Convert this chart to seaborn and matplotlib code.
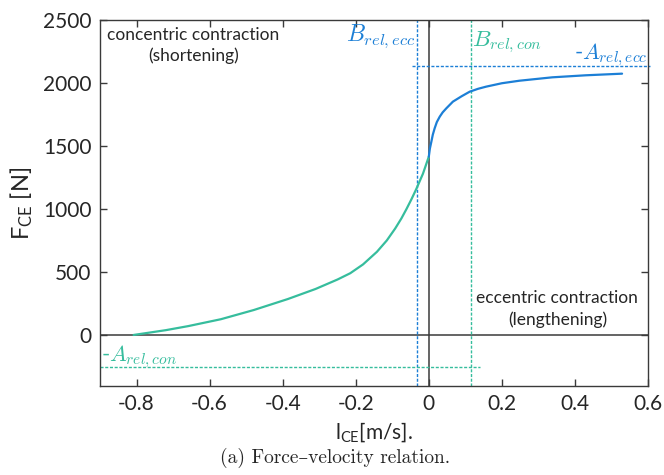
import matplotlib
matplotlib.use("Agg")
import matplotlib.pyplot as plt
import seaborn as sns
import pandas as pd

# Concentric branch (shortening, negative velocity)
v_con = [-0.808, -0.72, -0.659, -0.569, -0.479, -0.386, -0.310, -0.25, -0.215,
         -0.18, -0.142, -0.115, -0.092, -0.075, -0.061, -0.047, -0.034,
         -0.016, 0.0]
f_con = [0, 38, 70, 125, 198, 285, 365, 440, 490,
         560, 660, 750, 845, 925, 1000, 1080, 1160,
         1280, 1415]

# Eccentric branch (lengthening, positive velocity)
v_ecc = [0.0, 0.003, 0.007, 0.011, 0.016, 0.022, 0.030, 0.038, 0.048, 0.066,
         0.09, 0.112, 0.135, 0.157, 0.20, 0.248, 0.338, 0.429, 0.529]
f_ecc = [1415, 1480, 1534, 1590, 1640, 1690, 1733, 1767, 1799, 1852,
         1895, 1931, 1954, 1971, 1998, 2018, 2045, 2061, 2074]

# Hill parameters shown as asymptotes
b_rel_ecc = -0.032
b_rel_con = 0.116
a_rel_ecc = 2137
a_rel_con = -252

x_ticks = [-0.8, -0.6, -0.4, -0.2, 0, 0.2, 0.4, 0.6]
y_ticks = [0, 500, 1000, 1500, 2000, 2500]

TEAL = "#36bd9d"
BLUE = "#1c7fd6"
SPINE = "#3a3a3a"

sns.set_style("ticks")
plt.rcParams["font.family"] = ["Lato", "DejaVu Sans"]
plt.rcParams["mathtext.fontset"] = "custom"
plt.rcParams["mathtext.rm"] = "Lato"
plt.rcParams["mathtext.it"] = "Lato:italic"

fig = plt.figure(figsize=(6.64, 4.75), dpi=100)
ax = fig.add_axes([0.1506, 0.1874, 0.8253, 0.7705])

df_con = pd.DataFrame({"v": v_con, "F": f_con})
df_ecc = pd.DataFrame({"v": v_ecc, "F": f_ecc})

ax.axhline(0, color=SPINE, lw=1.1, zorder=1)
ax.axvline(0, color=SPINE, lw=1.1, zorder=1)

dash = (0, (2.2, 1.2))
ax.axvline(b_rel_ecc, color=BLUE, lw=1.0, ls=dash, zorder=2)
ax.axvline(b_rel_con, color=TEAL, lw=1.0, ls=dash, zorder=2)
ax.plot([-0.045, 0.605], [a_rel_ecc, a_rel_ecc], color=BLUE, lw=1.0, ls=dash,
        zorder=2, clip_on=False)
ax.plot([-0.9, 0.139], [a_rel_con, a_rel_con], color=TEAL, lw=1.0, ls=dash,
        zorder=2)

sns.lineplot(data=df_con, x="v", y="F", ax=ax, color=TEAL, lw=1.6,
             sort=False, estimator=None, zorder=3)
sns.lineplot(data=df_ecc, x="v", y="F", ax=ax, color=BLUE, lw=1.6,
             sort=False, estimator=None, zorder=3)

ax.set_xlim(-0.9, 0.6)
ax.set_ylim(-405, 2500)
ax.set_xticks(x_ticks)
ax.set_xticklabels([f"{t:g}" for t in x_ticks])
ax.set_yticks(y_ticks)
ax.set_yticklabels([str(t) for t in y_ticks])
ax.tick_params(direction="in", length=5, width=1, color=SPINE,
               top=True, right=True, labelsize=15, pad=6)
for s in ax.spines.values():
    s.set_color(SPINE)
    s.set_linewidth(1.0)

ax.set_xlabel(r"$\mathrm{l_{CE}}$[m/s].", fontsize=15, labelpad=4)
ax.set_ylabel(r"$\mathrm{F_{CE}}$ [N]", fontsize=17, labelpad=6)

ax.text(-0.645, 2445, "concentric contraction\n(shortening)", ha="center",
        va="top", fontsize=12.5, linespacing=1.35)
ax.text(0.352, 360, "eccentric contraction\n(lengthening)", ha="center",
        va="top", fontsize=12.5, linespacing=1.45)

ax.text(b_rel_ecc - 0.005, 2375, r"$B_{rel,ecc}$", color=BLUE, ha="right",
        va="center", fontsize=17, math_fontfamily="cm")
ax.text(b_rel_con + 0.001, 2325, r"$B_{rel,con}$", color=TEAL, ha="left",
        va="center", fontsize=16.5, math_fontfamily="cm")
ax.text(0.599, 2225, r"-$A_{rel,ecc}$", color=BLUE, ha="right",
        va="center", fontsize=16, math_fontfamily="cm")
ax.text(-0.898, -170, r"-$A_{rel,con}$", color=TEAL, ha="left",
        va="center", fontsize=16, math_fontfamily="cm")

fig.text(0.505, 0.035, "(a) Force\u2013velocity relation.", ha="center",
         va="center", fontsize=14, family=["cmr10", "DejaVu Serif"])

fig.savefig("out.png", dpi=100)
